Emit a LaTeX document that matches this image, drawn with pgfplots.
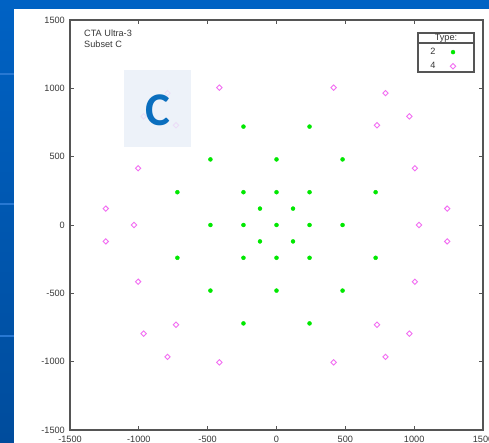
\documentclass[border=0pt]{standalone}
\usepackage{pgfplots}
\pgfplotsset{compat=1.18}
\usepackage{pgfplotstable}
\usepackage{fontspec}
\setmainfont{Liberation Sans}
\newfontfamily\slidefont{Carlito}

\definecolor{slideblue}{RGB}{0,98,196}
\definecolor{slidebluedark}{RGB}{0,76,156}
\definecolor{slidestripe}{RGB}{40,120,210}
\definecolor{typetwo}{RGB}{0,232,0}
\definecolor{typefour}{RGB}{242,110,242}
\definecolor{framegray}{RGB}{85,85,85}
\definecolor{labelgray}{RGB}{55,55,55}
\definecolor{tagfill}{RGB}{234,240,248}
\definecolor{tagblue}{RGB}{10,110,190}

% telescope positions (m), subset C
\pgfplotstableread{
x y
-240 720
240 720
-480 480
0 480
480 480
-720 240
-240 240
0 240
240 240
720 240
-120 120
120 120
-480 0
-240 0
0 0
240 0
480 0
-120 -120
120 -120
-720 -240
-240 -240
0 -240
240 -240
720 -240
-480 -480
0 -480
480 -480
-240 -720
240 -720
}\typetwotable

\pgfplotstableread{
x y
-415 1005
415 1005
-792 965
792 965
-965 795
965 795
-730 730
730 730
-1005 415
1005 415
-1240 120
1240 120
-1035 0
1035 0
-1240 -120
1240 -120
-1005 -415
1005 -415
-730 -730
730 -730
-965 -795
965 -795
-792 -965
792 -965
-415 -1005
415 -1005
}\typefourtable

\begin{document}
\begin{tikzpicture}
\path[use as bounding box] (0,0) rectangle (489bp,443bp);
\clip (0,0) rectangle (489bp,443bp);
% slide background and white panel
\shade[top color=slideblue, bottom color=slidebluedark] (0,0) rectangle (489bp,443bp);
\foreach \yy in {106,238,368} {
  \fill[slidestripe] (0,\yy bp) rectangle (14bp,\yy bp+1.5bp);
}
\fill[white] (14bp,0) rectangle (489bp,434bp);

\begin{axis}[
  at={(70bp,13bp)}, anchor=south west, scale only axis,
  width=413bp, height=410bp,
  xmin=-1500, xmax=1500, ymin=-1500, ymax=1500,
  xtick={-1500,-1000,...,1500}, ytick={-1500,-1000,...,1500},
  tick align=inside, major tick length=4bp,
  axis line style={framegray, line width=1.1pt},
  tick style={framegray, line width=0.8pt},
  /pgf/number format/assume math mode=true,
  /pgf/number format/1000 sep={},
  ticklabel style={font=\fontsize{9.2}{11}\selectfont, text=labelgray},
  xticklabel style={inner sep=0pt, yshift=-6bp},
  yticklabel style={inner sep=0pt, xshift=-5bp},
  legend plot pos=right,
  legend style={draw=none, fill=none, at={(0.9007,0.9045)}, anchor=center,
    font=\fontsize{9.2}{11}\selectfont, text=labelgray,
    column sep=13bp, row sep=2.3bp, inner sep=0pt},
]
\addplot[only marks, mark=*, mark size=2bp, color=typetwo] table {\typetwotable};
\addlegendentry{2}
\addplot[only marks, mark=square, mark size=1.9bp, color=typefour,
  mark options={rotate=45, line width=0.9pt}] table {\typefourtable};
\addlegendentry{4}
\end{axis}

% plot title inside the frame
\node[anchor=north west, inner sep=0pt, align=left, text=labelgray,
  font=\fontsize{9.2}{10.8}\selectfont] at (84bp,413bp) {CTA Ultra-3\\Subset C};

% legend frame with header
\draw[framegray, line width=1.2pt] (418bp,371bp) rectangle (474bp,410bp);
\draw[framegray, line width=1.2pt] (418bp,400bp) -- (474bp,400bp);
\node[inner sep=0pt, text=labelgray, font=\fontsize{9.2}{11}\selectfont] at (446bp,405bp) {Type:};

% subset tag
\fill[tagfill, fill opacity=0.85] (124bp,296bp) rectangle (191bp,373bp);
\node[inner sep=0pt, text=tagblue, font=\slidefont\bfseries\fontsize{47}{47}\selectfont] at (157.5bp,332.8bp) {C};
\end{tikzpicture}
\end{document}
